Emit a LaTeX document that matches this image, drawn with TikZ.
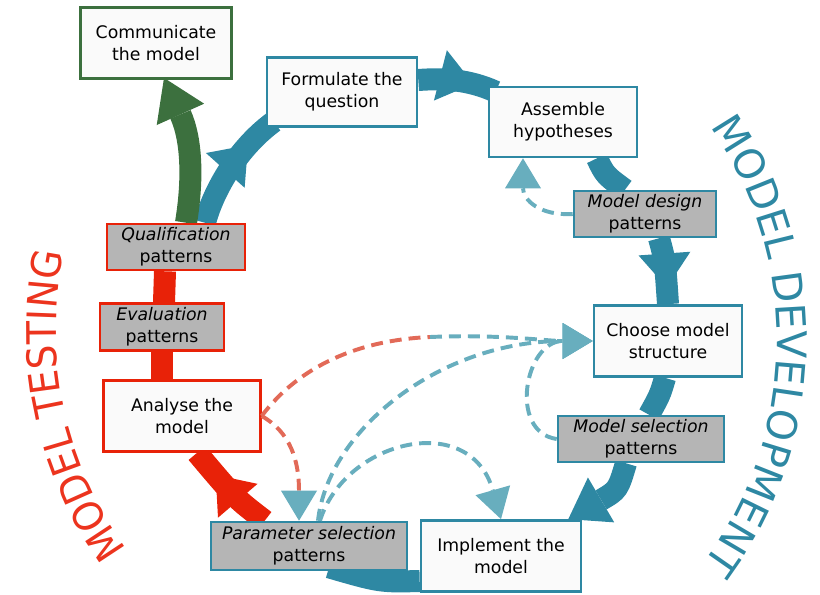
\documentclass[tikz,border=0pt]{standalone}
\usepackage{fontspec}
\setmainfont{DejaVu Sans}
\newfontfamily\testfamily[FakeStretch=0.93]{DejaVu Sans}
\newfontfamily\devfamily[FakeStretch=1.0]{DejaVu Sans}
\usetikzlibrary{arrows.meta,calc,decorations.markings,decorations.text}
\definecolor{band_teal}{RGB}{46,136,163}
\definecolor{dash_teal}{RGB}{104,174,190}
\definecolor{band_red}{RGB}{232,34,8}
\definecolor{dash_red}{RGB}{226,106,88}
\definecolor{band_green}{RGB}{60,112,62}
\definecolor{label_red}{RGB}{236,52,30}
\definecolor{box_gray}{RGB}{181,181,181}
\definecolor{box_white}{RGB}{250,250,250}
\pgfdeclarelayer{bg}
\pgfsetlayers{bg,main}
\newcommand{\boxfont}{\fontsize{12.3}{15.6}\selectfont}
\tikzset{bighead/.style={postaction=decorate,
    decoration={markings, mark=at position #1 with {\arrow{Triangle[width=1.3cm,length=0.85cm,line width=0pt]}}}}}

\begin{document}
\begin{tikzpicture}[x=0.025cm,y=-0.025cm]
    \tikzstyle{box}=[draw=band_teal, line width=1.8pt, fill=box_white, align=center, font=\boxfont, inner sep=2pt]
    \tikzstyle{pat}=[box, fill=box_gray]
    \tikzstyle{band}=[line width=0.55cm, draw=band_teal]
    \tikzstyle{link}=[draw=dash_teal, line width=2.8pt, dash pattern=on 8.5pt off 5pt, -{Triangle[width=0.9cm,length=0.75cm,line width=0pt]}]

    \useasboundingbox (0,0) rectangle (820,594);

    \node[box, draw=band_green, minimum width=3.78cm, minimum height=1.78cm] (comm) at (156,43) {Communicate\\the model};
    \node[box, minimum width=3.75cm, minimum height=1.72cm] (form) at (342,92) {Formulate the\\question};
    \node[box, minimum width=3.7cm, minimum height=1.75cm] (assem) at (563,122) {Assemble\\hypotheses};
    \node[pat, minimum width=3.55cm, minimum height=1.15cm] (design) at (645,214) {\textit{Model design}\\patterns};
    \node[box, minimum width=3.7cm, minimum height=1.78cm] (choose) at (668,341) {Choose model\\structure};
    \node[pat, minimum width=4.15cm, minimum height=1.15cm] (selpat) at (641,439) {\textit{Model selection}\\patterns};
    \node[box, minimum width=4cm, minimum height=1.78cm] (impl) at (501,556) {Implement the\\model};
    \node[pat, minimum width=4.9cm, minimum height=1.2cm] (parpat) at (309,546) {\textit{Parameter selection}\\patterns};
    \node[box, draw=band_red, minimum width=3.92cm, minimum height=1.78cm] (analyse) at (182,416) {Analyse the\\model};
    \node[pat, draw=band_red, minimum width=3.1cm, minimum height=1.17cm] (evalpat) at (162,327) {\textit{Evaluation}\\patterns};
    \node[pat, draw=band_red, minimum width=3.45cm, minimum height=1.15cm] (qualpat) at (176,247) {\textit{Qualification}\\patterns};

    % main cycle
    \begin{pgfonlayer}{bg}
    \draw[band, bighead=0.72] ($(qualpat.north)+(29,0)$) .. controls (212,195) and (235,150) .. ($(form.south west)+(8,-6)$);
    \draw[band, draw=band_green, -{Triangle[width=1.3cm,length=1cm,line width=0pt]}] ($(qualpat.north)+(10,0)$) .. controls (193,180) and (192,140) .. ($(comm.south)+(8,-2)$);
    \draw[band, bighead=0.7] ($(form.east)+(0,-12)$) .. controls (445,78) and (470,80) .. ($(assem.north west)+(8,6)$);
    \draw[band] ($(assem.south)+(34,0)$) .. controls (605,175) .. ($(design.north)+(-20,0)$);
    \draw[band, bighead=0.75] ($(design.south)+(14,0)$) .. controls (665,260) .. (choose.north);
    \draw[band] ($(choose.south)+(-3,0)$) .. controls (660,395) .. ($(selpat.north)+(8,0)$);
    \draw[band, -{Triangle[width=1.3cm,length=0.95cm,line width=0pt]}] ($(selpat.south)+(-15,0)$) .. controls (618,490) .. ($(impl.north east)+(-14,0)$);
    \draw[band] ($(impl.west)+(0,25)$) .. controls (380,582) .. ($(parpat.south)+(20,-4)$);
    \draw[band, draw=band_red, bighead=0.7] ($(parpat.north west)+(55,0)$) .. controls (235,498) .. ($(analyse.south)+(15,0)$);
    \draw[band, draw=band_red] ($(analyse.north)+(-20,0)$) -- (evalpat.south);
    \draw[band, draw=band_red] ($(evalpat.north)+(2,0)$) -- ($(qualpat.south)+(-11,0)$);
    \end{pgfonlayer}

    % pattern links
    \draw[link] (design.west) .. controls (540,216) and (523,200) .. ($(assem.south)+(-40,0)$);
    \draw[link] (selpat.west) .. controls (508,432) and (525,341) .. (choose.west);
    \draw[link] ($(parpat.north)+(9,0)$) .. controls (328,430) and (440,341) .. (choose.west);
    \draw[link] ($(parpat.north)+(11,0)$) .. controls (345,440) and (470,410) .. (impl.north);
    \coordinate (mid) at (430,337);
    \draw[link, draw=dash_red, -] (analyse.east) .. controls (300,365) and (360,340) .. (mid);
    \draw[link] (mid) .. controls (500,334) and (545,341) .. (choose.west);
    \draw[link, draw=dash_red, -{Triangle[width=0.9cm,length=0.75cm,line width=0pt,color=dash_teal]}] (analyse.east) .. controls (290,432) and (299,460) .. ($(parpat.north)+(-10,0)$);

    \path[decorate, decoration={text along path, text align=center,
        text={|\testfamily\fontsize{29}{29}\selectfont\color{label_red}|MODEL TESTING}}] (430,330) ++(123:374) arc[start angle=123, end angle=213, radius=374];
    \path[decorate, decoration={text along path, text align=center,
        text={|\devfamily\fontsize{29}{29}\selectfont\color{band_teal}|MODEL DEVELOPMENT}}] (402,340) ++(-44:375) arc[start angle=-44, end angle=46, radius=375];
\end{tikzpicture}
\end{document}
